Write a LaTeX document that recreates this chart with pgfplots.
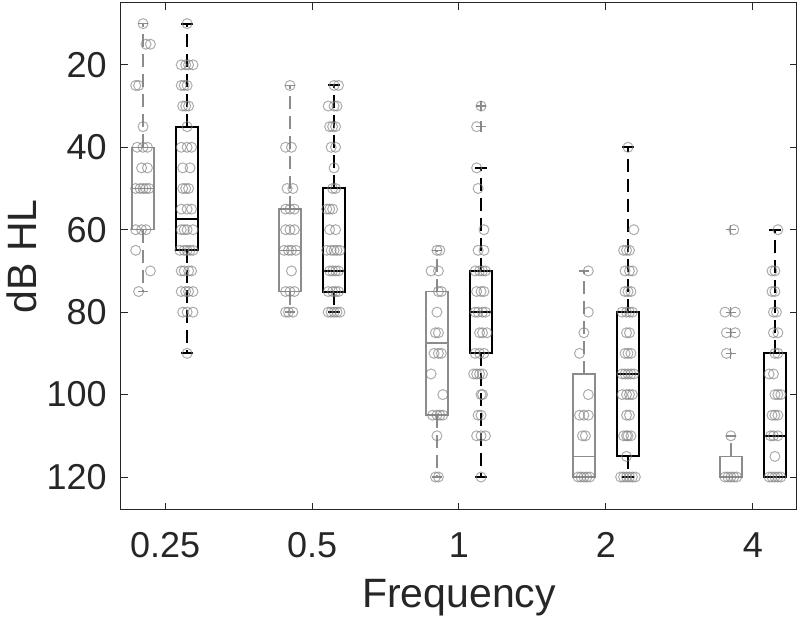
\documentclass[border=0pt]{standalone}
\usepackage{pgfplots}
\pgfplotsset{compat=1.18}
\usepgfplotslibrary{statistics}
\usepackage{fontspec}
\setmainfont{Liberation Sans}

\definecolor{boxgray}{gray}{0.55}
\definecolor{dotgray}{gray}{0.5}
\definecolor{axgray}{gray}{0.15}

% whiskers: dashed stem, solid cap
\pgfplotsset{
  boxplot/draw/lower whisker/.code={%
    \draw[dash pattern=on 6.5pt off 3.5pt]
      (boxplot box cs:\pgfplotsboxplotvalue{lower quartile},0.5) --
      (boxplot box cs:\pgfplotsboxplotvalue{lower whisker},0.5);
    \draw (boxplot whisker cs:\pgfplotsboxplotvalue{lower whisker},0) --
      (boxplot whisker cs:\pgfplotsboxplotvalue{lower whisker},1);
  },
  boxplot/draw/upper whisker/.code={%
    \draw[dash pattern=on 6.5pt off 3.5pt]
      (boxplot box cs:\pgfplotsboxplotvalue{upper quartile},0.5) --
      (boxplot box cs:\pgfplotsboxplotvalue{upper whisker},0.5);
    \draw (boxplot whisker cs:\pgfplotsboxplotvalue{upper whisker},0) --
      (boxplot whisker cs:\pgfplotsboxplotvalue{upper whisker},1);
  },
  graybox/.style={boxgray, line width=0.7pt, solid, mark=+, mark size=2.6pt,
    mark options={solid, boxgray, line width=0.6pt},
    boxplot/draw direction=y, boxplot/box extend=0.15, boxplot/whisker extend=0.065},
  blackbox/.style={black, line width=1.0pt, solid, mark=+, mark size=2.6pt,
    mark options={solid, boxgray, line width=0.6pt},
    boxplot/draw direction=y, boxplot/box extend=0.15, boxplot/whisker extend=0.08},
  dots/.style={only marks, mark=o, mark size=2.5pt,
    mark options={draw=dotgray, line width=0.5pt, draw opacity=0.65}},
}

\begin{document}
\begin{tikzpicture}
\useasboundingbox (-60.5pt,-55pt) rectangle (339.5pt,255pt);
\begin{axis}[at={(0,0)}, anchor=south west,
  scale only axis, width=338pt, height=253.5pt,
  xmin=0.7, xmax=5.3, ymin=5, ymax=128, y dir=reverse,
  xtick={1,2,3,4,5}, xticklabels={0.25,0.5,1,2,4},
  ytick={20,40,60,80,100,120},
  tick pos=both, tick align=inside, major tick length=3.5pt,
  axis line style={axgray, line width=0.5pt},
  tick style={axgray, line width=0.5pt},
  /pgf/number format/assume math mode=true,
  ticklabel style={font=\fontsize{18}{20}\selectfont, text=axgray, inner sep=0pt},
  xticklabel style={anchor=base, yshift=-24pt},
  yticklabel style={anchor=east, xshift=-7pt},
  xlabel={Frequency}, ylabel={dB HL},
  every axis x label/.style={at={(axis description cs:0.5,0)}, anchor=base,
    yshift=-49pt, font=\fontsize{20.5}{24}\selectfont, text=axgray, inner sep=0pt},
  every axis y label/.style={at={(axis description cs:-0.1472,0.5)}, rotate=90,
    anchor=center, font=\fontsize{20.5}{24}\selectfont, text=axgray, inner sep=0pt},
  clip=false]

% ---- 0.25 kHz
\addplot[graybox, boxplot prepared={draw position=0.85, lower whisker=10,
  lower quartile=40, median=50, upper quartile=60, upper whisker=75}] coordinates {};
\addplot[blackbox, boxplot prepared={draw position=1.15, lower whisker=10,
  lower quartile=35, median=57.5, upper quartile=65, upper whisker=90}] coordinates {};
% ---- 0.5 kHz
\addplot[graybox, boxplot prepared={draw position=1.85, lower whisker=25,
  lower quartile=55, median=65, upper quartile=75, upper whisker=80}] coordinates {};
\addplot[blackbox, boxplot prepared={draw position=2.15, lower whisker=25,
  lower quartile=50, median=70, upper quartile=75, upper whisker=80}] coordinates {};
% ---- 1 kHz
\addplot[graybox, boxplot prepared={draw position=2.85, lower whisker=65,
  lower quartile=75, median=87.5, upper quartile=105, upper whisker=120}] coordinates {};
\addplot[blackbox, boxplot prepared={draw position=3.15, lower whisker=45,
  lower quartile=70, median=80, upper quartile=90, upper whisker=120}]
  table[row sep=\\, y index=0] {30\\ 35\\};
% ---- 2 kHz
\addplot[graybox, boxplot prepared={draw position=3.85, lower whisker=70,
  lower quartile=95, median=115, upper quartile=120, upper whisker=120}] coordinates {};
\addplot[blackbox, boxplot prepared={draw position=4.15, lower whisker=40,
  lower quartile=80, median=95, upper quartile=115, upper whisker=120}] coordinates {};
% ---- 4 kHz
\addplot[graybox, boxplot prepared={draw position=4.85, lower whisker=110,
  lower quartile=115, median=120, upper quartile=120, upper whisker=120}]
  table[row sep=\\, y index=0] {60\\ 80\\ 80\\ 85\\ 85\\ 90\\};
\addplot[blackbox, boxplot prepared={draw position=5.15, lower whisker=60,
  lower quartile=90, median=110, upper quartile=120, upper whisker=120}] coordinates {};

% individual thresholds, first group
\addplot[dots] coordinates {
(0.85,10) (0.87,15) (0.90,15) (0.80,25) (0.82,25) (0.85,35)
(0.81,40) (0.85,40) (0.88,40) (0.84,45) (0.88,45)
(0.80,50) (0.83,50) (0.85,50) (0.87,50) (0.89,50)
(0.80,60) (0.84,60) (0.87,60) (0.80,65) (0.90,70) (0.82,75)
(1.85,25) (1.82,40) (1.86,40) (1.83,50) (1.87,50)
(1.82,55) (1.85,55) (1.88,55) (1.82,60) (1.85,60) (1.88,60)
(1.81,65) (1.84,65) (1.86,65) (1.89,65) (1.86,70)
(1.82,75) (1.85,75) (1.88,75) (1.82,80) (1.84,80) (1.87,80)
(2.85,65) (2.87,65) (2.81,70) (2.86,70) (2.86,75) (2.88,75)
(2.85,80) (2.84,85) (2.86,85) (2.83,90) (2.86,90) (2.88,90)
(2.81,95) (2.89,100) (2.82,105) (2.85,105) (2.87,105) (2.89,105)
(2.85,110) (2.84,120) (2.86,120)
(3.88,70) (3.88,80) (3.85,85) (3.82,90) (3.88,100)
(3.82,105) (3.85,105) (3.88,105) (3.84,110) (3.86,110)
(3.81,120) (3.83,120) (3.85,120) (3.87,120) (3.89,120)
(4.87,60) (4.81,80) (4.88,80) (4.82,85) (4.88,85) (4.82,90)
(4.85,110) (4.81,120) (4.83,120) (4.85,120) (4.87,120) (4.89,120)
};
% individual thresholds, second group
\addplot[dots] coordinates {
(1.15,10) (1.11,20) (1.14,20) (1.16,20) (1.19,20)
(1.11,25) (1.13,25) (1.15,25) (1.12,30) (1.14,30) (1.16,30)
(1.15,35) (1.11,40) (1.15,40) (1.18,40) (1.12,45) (1.17,45)
(1.12,50) (1.14,50) (1.16,50) (1.11,55) (1.15,55) (1.18,55)
(1.11,60) (1.13,60) (1.15,60) (1.19,60)
(1.10,65) (1.13,65) (1.15,65) (1.17,65) (1.19,65)
(1.11,70) (1.13,70) (1.16,70) (1.18,70)
(1.11,75) (1.14,75) (1.16,75) (1.19,75)
(1.12,80) (1.15,80) (1.19,80) (1.15,90)
(2.15,25) (2.18,25) (2.11,30) (2.15,30) (2.17,30)
(2.12,35) (2.14,35) (2.16,35) (2.13,40) (2.16,40) (2.15,45)
(2.14,50) (2.16,50) (2.10,55) (2.12,55) (2.14,55) (2.12,60) (2.16,60)
(2.10,65) (2.13,65) (2.15,65) (2.17,65) (2.19,65)
(2.12,70) (2.14,70) (2.16,70) (2.18,70)
(2.11,75) (2.14,75) (2.16,75) (2.18,75)
(2.11,80) (2.13,80) (2.15,80) (2.17,80) (2.19,80)
(3.15,30) (3.12,35) (3.12,45) (3.13,50) (3.17,60) (3.13,65) (3.17,65)
(3.11,70) (3.14,70) (3.16,70) (3.18,70) (3.12,75) (3.15,75) (3.17,75)
(3.11,80) (3.13,80) (3.16,80) (3.18,80) (3.14,85) (3.16,85) (3.19,85)
(3.11,90) (3.14,90) (3.17,90) (3.10,95) (3.12,95) (3.14,95) (3.16,95)
(3.15,100) (3.16,100) (3.13,105) (3.15,105)
(3.12,110) (3.15,110) (3.18,110) (3.15,120)
(4.15,40) (4.19,60) (4.12,65) (4.14,65) (4.16,65)
(4.13,70) (4.16,70) (4.18,70) (4.13,75) (4.15,75) (4.17,75)
(4.11,80) (4.14,80) (4.16,80) (4.18,80) (4.14,85) (4.16,85)
(4.13,90) (4.15,90) (4.17,90)
(4.11,95) (4.13,95) (4.15,95) (4.17,95) (4.19,95)
(4.11,100) (4.14,100) (4.16,100) (4.18,100) (4.14,105) (4.16,105)
(4.12,110) (4.14,110) (4.15,110) (4.17,110) (4.14,115)
(4.10,120) (4.12,120) (4.14,120) (4.16,120) (4.18,120) (4.20,120)
(5.17,60) (5.13,70) (5.15,70) (5.13,75) (5.15,75) (5.14,80) (5.16,80)
(5.14,85) (5.17,85) (5.15,90) (5.17,90) (5.11,95) (5.14,95)
(5.15,100) (5.17,100) (5.19,100) (5.13,105) (5.15,105) (5.17,105)
(5.12,110) (5.14,110) (5.17,110) (5.15,115)
(5.11,120) (5.13,120) (5.15,120) (5.17,120) (5.19,120)
};
\end{axis}
\end{tikzpicture}
\end{document}
